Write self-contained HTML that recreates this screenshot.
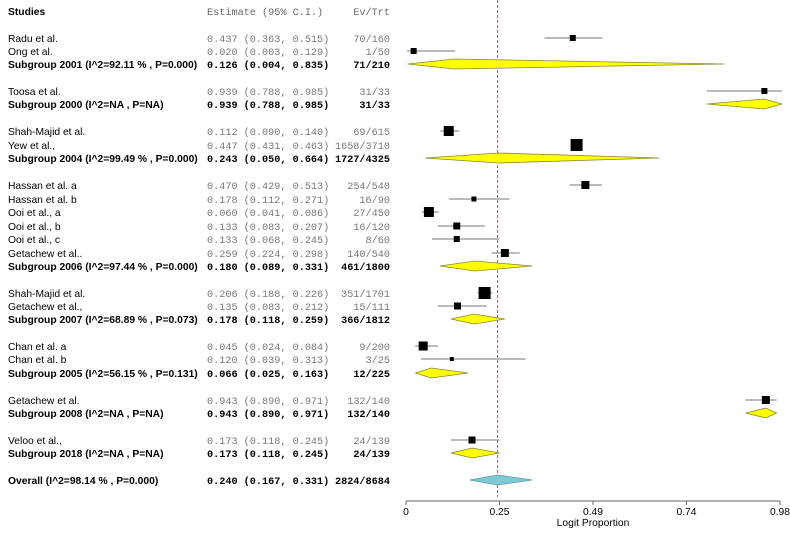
<!DOCTYPE html>
<html><head><meta charset="utf-8"><style>
body{margin:0;background:#fff;}
svg{display:block;}
.lbl{font-family:"Liberation Sans",sans-serif;font-size:10.3px;fill:#000;}
.b{font-weight:bold;}
.mono{font-family:"Liberation Mono",monospace;font-size:10.2px;}
</style></head><body>
<svg id="c" width="790" height="534" xmlns="http://www.w3.org/2000/svg"></svg>
<script>
const labels=["Radu et al.","Ong et al.","Subgroup 2001 (I^2=92.11 % , P=0.000)","Toosa et al.","Subgroup 2000 (I^2=NA , P=NA)","Shah-Majid et al.","Yew et al.,","Subgroup 2004 (I^2=99.49 % , P=0.000)","Hassan et al.  a","Hassan et al.  b","Ooi et al., a","Ooi et al., b","Ooi et al., c","Getachew et al..","Subgroup 2006 (I^2=97.44 % , P=0.000)","Shah-Majid et al.","Getachew et al.,","Subgroup 2007 (I^2=68.89 % , P=0.073)","Chan et al.  a","Chan et al.  b","Subgroup 2005 (I^2=56.15 % , P=0.131)","Getachew et al.","Subgroup 2008 (I^2=NA , P=NA)","Veloo et al.,","Subgroup 2018 (I^2=NA , P=NA)","Overall (I^2=98.14 % , P=0.000)"];
const kinds=["s","s","g","s","g","s","s","g","s","s","s","s","s","s","g","s","s","g","s","s","g","s","g","s","g","o"];
const est=[0.437,0.020,0.126,0.939,0.939,0.112,0.447,0.243,0.470,0.178,0.060,0.133,0.133,0.259,0.180,0.206,0.135,0.178,0.045,0.120,0.066,0.943,0.943,0.173,0.173,0.240];
const lo=[0.363,0.003,0.004,0.788,0.788,0.090,0.431,0.050,0.429,0.112,0.041,0.083,0.068,0.224,0.089,0.188,0.083,0.118,0.024,0.039,0.025,0.890,0.890,0.118,0.118,0.167];
const hi=[0.515,0.129,0.835,0.985,0.985,0.140,0.463,0.664,0.513,0.271,0.086,0.207,0.245,0.298,0.331,0.226,0.212,0.259,0.084,0.313,0.163,0.971,0.971,0.245,0.245,0.331];
const evs=["70/160","1/50","71/210","31/33","31/33","69/615","1658/3710","1727/4325","254/540","16/90","27/450","16/120","8/60","140/540","461/1800","351/1701","15/111","366/1812","9/200","3/25","12/225","132/140","132/140","24/139","24/139","2824/8684"];
const weights=[6,6,0,6,0,10,12,0,8,5,10,7,6,8,0,12,7,0,9,4,0,8,0,7,0,0];
const rowY=[38,51,64,91,104,131,145,158,185,199,212,226,239,253,266,293,306,319,346,359,373,400,413,440,453,480];
const tickVals=[0,0.25,0.49,0.74,0.98];
const pooled=0.24;

const NS="http://www.w3.org/2000/svg";
const svg=document.getElementById('c');
const x=v=>406+v/0.98*374;
function mk(t,a,p){const e=document.createElementNS(NS,t);for(const k in a)e.setAttribute(k,a[k]);(p||svg).appendChild(e);return e;}
function txt(s,a){const e=mk('text',a);e.textContent=s;return e;}

let h=txt("Studies",{x:8,y:15,class:"lbl b"});


h=txt("Estimate (95% C.I.)",{x:207,y:15,class:"mono",fill:"#666"});


h=txt("Ev/Trt",{x:390,y:15,class:"mono","text-anchor":"end",fill:"#666"});



let rl=mk('line',{x1:x(pooled),x2:x(pooled),y1:0,y2:497,stroke:"#ff3333",'stroke-width':1,'stroke-dasharray':"3,2"});



for(let i=0;i<labels.length;i++){
  const y=rowY[i],k=kinds[i],bold=k!=="s";
  const fmt=v=>v.toFixed(3);
  let t=txt(labels[i],{x:8,y:y+4,class:"lbl"+(bold?" b":"")});
  
  
  t=txt(fmt(est[i])+" ("+fmt(lo[i])+", "+fmt(hi[i])+")",{x:207,y:y+4,class:"mono",fill:bold?"#000":"#777","font-weight":bold?"bold":"normal"});
  
  
  t=txt(evs[i],{x:390,y:y+4,class:"mono","text-anchor":"end",fill:bold?"#000":"#777","font-weight":bold?"bold":"normal"});
  
  
  if(k==="s"){
    const l=mk('line',{x1:x(lo[i]),x2:x(hi[i]),y1:y,y2:y,stroke:"#777",'stroke-width':1});
    
    
    const w=weights[i];
    const r=mk('rect',{x:x(est[i])-w/2,y:y-w/2,width:w,height:w,fill:"#000"});
    
    
  }else{
    const hh=5;
    const p=mk('polygon',{points:`${x(lo[i])},${y} ${x(est[i])},${y-hh} ${x(hi[i])},${y} ${x(est[i])},${y+hh}`,fill:k==="o"?"#7ec8d8":"#ffff00",stroke:k==="o"?"#5a9aaa":"#888833",'stroke-width':0.8});
    
    
  }
}

const ax=mk('line',{x1:x(0),x2:x(0.98),y1:501,y2:501,stroke:"#666",'stroke-width':1});


tickVals.forEach((v,i)=>{
  const tx=406+i*374/4;
  const tk=mk('line',{x1:tx,x2:tx,y1:501,y2:505,stroke:"#666"});
  
  
  const tl=txt(String(v),{x:tx,y:515,class:"lbl","text-anchor":"middle","font-size":"7px",fill:"#444"});
  
  
});
const at=txt("Logit Proportion",{x:593,y:526,class:"lbl","text-anchor":"middle","font-size":"9px"});


</script>
</body></html>
